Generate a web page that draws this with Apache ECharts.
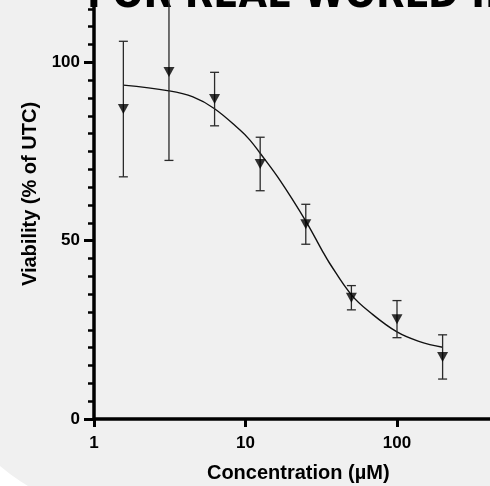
<!DOCTYPE html>
<html>
<head>
<meta charset="utf-8">
<script src="https://cdn.jsdelivr.net/npm/echarts@6/dist/echarts.min.js"></script>
<style>
  html, body { margin: 0; padding: 0; background: #f0f0f0; }
  #chart { width: 490px; height: 486px; }
</style>
</head>
<body>
<div id="chart"></div>
<script>
// ---- data ----
const concentrations = [1.5625, 3.125, 6.25, 12.5, 25, 50, 100, 200];
const meanViability = [86.9, 97.3, 89.7, 71.5, 54.6, 34.0, 28.0, 17.4];
const sdViability = [19.0, 24.8, 7.5, 7.5, 5.6, 3.4, 5.2, 6.2];
const fitConc = [1.5625, 3.125, 4.5, 6.25, 9.2, 10.7, 12.5, 16.9, 25, 32, 36, 50, 66, 100, 141, 200];
const fitViability = [93.6, 92.0, 90.3, 87.0, 81.0, 78.2, 74.5, 66.9, 55.5, 47.3, 43.6, 34.8, 30.0, 24.4, 21.7, 20.1];
const xTickValues = [1, 10, 100, 1000];
const yTickValues = [0, 50, 100, 150];
const headerText = 'FOR REAL-WORLD IMPACT';
const xTitle = 'Concentration (µM)';
const yTitle = 'Viability (% of UTC)';

const FONT = '"Liberation Sans", Arial, sans-serif';

const chart = echarts.init(document.getElementById('chart'), null, { renderer: 'canvas' });

const pointData = concentrations.map((c, i) => [c, meanViability[i]]);
const errData = concentrations.map((c, i) => [c, meanViability[i] - sdViability[i], meanViability[i] + sdViability[i]]);
const fitData = fitConc.map((c, i) => [c, fitViability[i]]);

chart.setOption({
  animation: false,
  backgroundColor: '#f0f0f0',
  graphic: [
    {
      type: 'polygon', z: -10, silent: true,
      shape: { points: [[0, 466], [10, 474], [20, 481], [28, 486], [0, 486]] },
      style: { fill: '#ffffff' }
    },
    {
      type: 'text', z: -5, silent: true, x: 87, y: -4,
      style: {
        text: headerText,
        font: 'bold 41px "DejaVu Sans Condensed", "Liberation Sans Narrow", "DejaVu Sans", sans-serif',
        fill: '#000',
        textAlign: 'left',
        textVerticalAlign: 'middle'
      }
    }
  ],
  grid: { left: 94, width: 454.5, top: -116, height: 535, containLabel: false, outerBoundsMode: 'none' },
  xAxis: {
    type: 'log', logBase: 10, min: xTickValues[0], max: xTickValues[xTickValues.length - 1],
    name: xTitle, nameLocation: 'middle', nameGap: 44,
    nameTextStyle: { fontFamily: FONT, fontSize: 20, fontWeight: 'bold', color: '#000', padding: [0, 46, 0, 0] },
    axisLine: { show: true, lineStyle: { color: '#000', width: 3.5 } },
    axisTick: { show: true, inside: false, length: 8, lineStyle: { color: '#000', width: 3 } },
    minorTick: { show: false },
    splitLine: { show: false },
    axisLabel: { fontFamily: FONT, fontSize: 17, fontWeight: 'bold', color: '#000', margin: 16 }
  },
  yAxis: {
    type: 'value', min: yTickValues[0], max: yTickValues[yTickValues.length - 1], interval: 50,
    name: yTitle, nameLocation: 'middle', nameGap: 45,
    nameTextStyle: { fontFamily: FONT, fontSize: 20, fontWeight: 'bold', color: '#000', padding: [0, 85, 0, 0] },
    axisLine: { show: true, lineStyle: { color: '#000', width: 3.5 } },
    axisTick: { show: true, inside: false, length: 10, lineStyle: { color: '#000', width: 3 } },
    minorTick: { show: true, splitNumber: 10, length: 6, lineStyle: { color: '#000', width: 2.5 } },
    splitLine: { show: false },
    axisLabel: { fontFamily: FONT, fontSize: 17, fontWeight: 'bold', color: '#000', margin: 14 }
  },
  series: [
    {
      type: 'line', data: fitData, smooth: 0.4, symbol: 'none',
      lineStyle: { color: '#111', width: 1.4 }, z: 2
    },
    {
      type: 'custom', data: errData, z: 3,
      renderItem: function (params, api) {
        const x = api.value(0);
        const lo = api.coord([x, api.value(1)]);
        const hi = api.coord([x, api.value(2)]);
        const hw = 4.5;
        const st = { stroke: '#2a2a2a', lineWidth: 1.3 };
        return {
          type: 'group',
          children: [
            { type: 'line', shape: { x1: lo[0], y1: lo[1], x2: hi[0], y2: hi[1] }, style: st },
            { type: 'line', shape: { x1: lo[0] - hw, y1: lo[1], x2: lo[0] + hw, y2: lo[1] }, style: st },
            { type: 'line', shape: { x1: hi[0] - hw, y1: hi[1], x2: hi[0] + hw, y2: hi[1] }, style: st }
          ]
        };
      }
    },
    {
      type: 'scatter', data: pointData, symbol: 'triangle', symbolRotate: 180,
      symbolSize: [11, 10], itemStyle: { color: '#000' }, z: 4
    }
  ]
});
</script>
</body>
</html>
